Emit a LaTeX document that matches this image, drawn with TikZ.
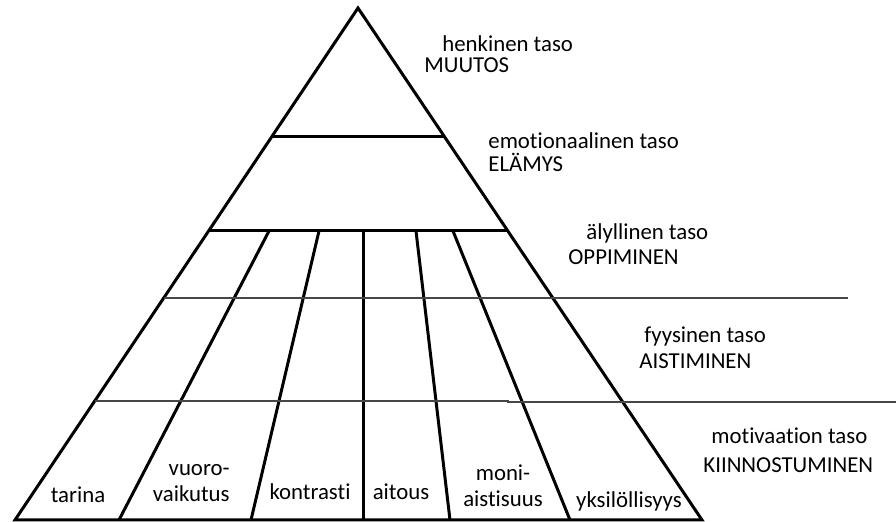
\documentclass[tikz,border=0pt]{standalone}
\usepackage{fontspec}
\setmainfont{Carlito}[Ligatures=NoCommon]
\usetikzlibrary{positioning}

\begin{document}
\begin{tikzpicture}[
    x=0.5pt, y=-0.5pt,
    every node/.style={font=\fontsize{11.4}{13.4}\selectfont, inner sep=0pt},
    % heavy strokes of the pyramid and its cells
    edge/.style={line width=1.5pt, line join=miter},
    % thin rules that run out to the level names
    rule/.style={line width=0.75pt, draw=black!72},
    % level name and keyword at the right side
    level/.style={anchor=base west},
    % labels of the bottom cells
    cell/.style={anchor=base, align=center}
]
\useasboundingbox (0,0) rectangle (896,522);

\coordinate (apex) at (358,8);
\coordinate (bl) at (15,520);
\coordinate (br) at (702,520);

\draw[edge] (apex) -- (bl) -- (br) -- cycle;
\draw[edge] (272,137) -- (445,137);
\draw[edge] (209,231) -- (508,231);

% cell dividers from the third level down to the base
\foreach \t/\b in {269/119, 319/251, 363/363, 416/450, 453/570}
  \draw[edge] (\t,231) -- (\b,520);

\draw[rule] (164,298) -- (848,298);
\draw[rule] (95,401) -- (508,401) -- (508,402) -- (896,402);

\node[level] (henk)  at (442,52)  {henkinen taso};
\node[level] (muut)  at (424,73)  {MUUTOS};
\node[level] (emot)  at (488,149) {emotionaalinen taso};
\node[level] (elam)  at (488,172) {ELÄMYS};
\node[level] (alyl)  at (586,240) {älyllinen taso};
\node[level] (oppi)  at (568,265) {OPPIMINEN};
\node[level] (fyys)  at (644,343) {fyysinen taso};
\node[level] (aist)  at (639,369) {AISTIMINEN};
\node[level] (moti)  at (711,444) {motivaation taso};
\node[level] (kiin)  at (703,473) {KIINNOSTUMINEN};

\node[cell] (tarina) at (78,503)  {tarina};
\node[cell, anchor=base east, align=right] (vuoro) at (230,502) {vuoro-\\vaikutus};
\node[cell] (kontr)  at (310,500) {kontrasti};
\node[cell] (aitous) at (401,500) {aitous};
\node[cell] (moni)   at (503,507) {moni-\\aistisuus};
\node[cell] (yksil)  at (629,508) {yksilöllisyys};
\end{tikzpicture}
\end{document}
